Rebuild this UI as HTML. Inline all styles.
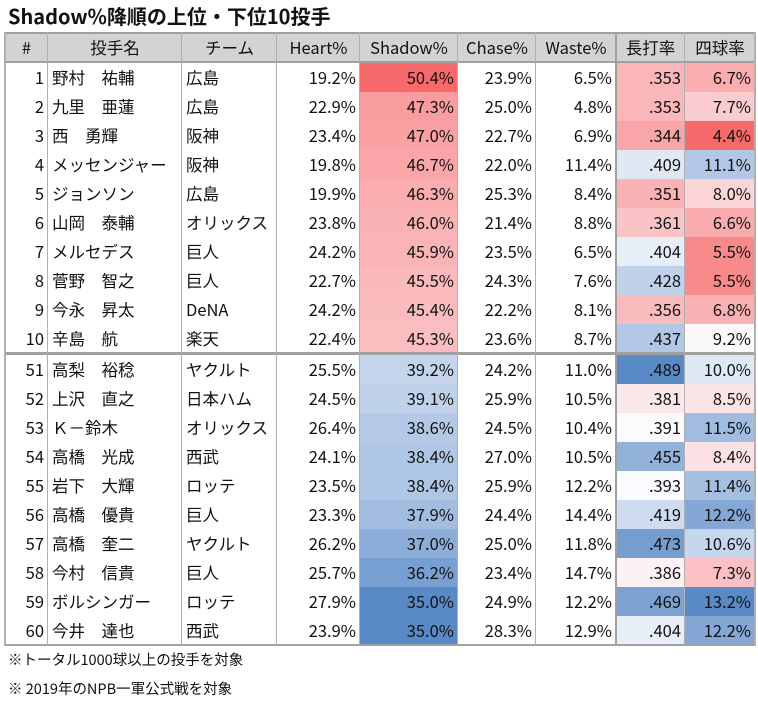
<!DOCTYPE html>
<html><head><meta charset="utf-8">
<style>
body{margin:0;width:758px;height:701px;background:#fff;font-family:"Liberation Sans","Noto Sans CJK JP",sans-serif;position:relative;overflow:hidden;color:#111}
.t{position:absolute;left:8px;top:1px;font-size:20px;font-weight:bold;font-family:"Noto Sans CJK JP",sans-serif}
.c{position:absolute;box-sizing:border-box;font-size:16.5px;line-height:29px;white-space:nowrap;font-family:"Noto Sans CJK JP",sans-serif}
.n{text-align:right;padding-right:4px}
.l{padding-left:4px}
.h{background:#d3d3d3;text-align:center}
.f{position:absolute;left:8px;font-size:14.5px;font-family:"Noto Sans CJK JP",sans-serif}
</style></head><body>
<div class="t">Shadow%降順の上位・下位10投手</div>
<div id="tbl"></div>
<div class="f" style="top:649px">※トータル1000球以上の投手を対象</div>
<div class="f" style="top:678px">※ 2019年のNPB一軍公式戦を対象</div>
<script>
const ranks=[1,2,3,4,5,6,7,8,9,10,51,52,53,54,55,56,57,58,59,60];
const names=["野村　祐輔","九里　亜蓮","西　勇輝","メッセンジャー","ジョンソン","山岡　泰輔","メルセデス","菅野　智之","今永　昇太","辛島　航","高梨　裕稔","上沢　直之","Ｋ－鈴木","高橋　光成","岩下　大輝","高橋　優貴","高橋　奎二","今村　信貴","ボルシンガー","今井　達也"];
const teams=["広島","広島","阪神","阪神","広島","オリックス","巨人","巨人","DeNA","楽天","ヤクルト","日本ハム","オリックス","西武","ロッテ","巨人","ヤクルト","巨人","ロッテ","西武"];
const heart=[19.2,22.9,23.4,19.8,19.9,23.8,24.2,22.7,24.2,22.4,25.5,24.5,26.4,24.1,23.5,23.3,26.2,25.7,27.9,23.9];
const shadow=[50.4,47.3,47.0,46.7,46.3,46.0,45.9,45.5,45.4,45.3,39.2,39.1,38.6,38.4,38.4,37.9,37.0,36.2,35.0,35.0];
const chase=[23.9,25.0,22.7,22.0,25.3,21.4,23.5,24.3,22.2,23.6,24.2,25.9,24.5,27.0,25.9,24.4,25.0,23.4,24.9,28.3];
const waste=[6.5,4.8,6.9,11.4,8.4,8.8,6.5,7.6,8.1,8.7,11.0,10.5,10.4,10.5,12.2,14.4,11.8,14.7,12.2,12.9];
const slg=[.353,.353,.344,.409,.351,.361,.404,.428,.356,.437,.489,.381,.391,.455,.393,.419,.473,.386,.469,.404];
const bb=[6.7,7.7,4.4,11.1,8.0,6.6,5.5,5.5,6.8,9.2,10.0,8.5,11.5,8.4,11.4,12.2,10.6,7.3,13.2,12.2];
const headers=["#","投手名","チーム","Heart%","Shadow%","Chase%","Waste%","長打率","四球率"];
const xs=[5,48,182,277,360,458,536,616,685,755];
const R=[248,105,107],W=[252,252,255],B=[90,138,198];
function mix(a,b,t){return `rgb(${a.map((v,i)=>Math.round(v+(b[i]-v)*t)).join(',')})`;}
function scale(v,lo,mid,hi,redHigh){
  let red,t;
  if(v>=mid){t=(v-mid)/(hi-mid);red=redHigh;}else{t=(mid-v)/(mid-lo);red=!redHigh;}
  t=Math.min(1,Math.max(0,t));
  return mix(W,red?R:B,t);
}
const tbl=document.getElementById('tbl');
function cell(x,y,w,h,txt,cls,bg,name,int){
  const d=document.createElement('div');
  d.className='c '+cls;
  d.style.left=x+'px';d.style.top=y+'px';d.style.width=w+'px';d.style.height=h+'px';
  if(bg)d.style.background=bg;
  d.textContent=txt;
  
  
  tbl.appendChild(d);
}
headers.forEach((h,i)=>{cell(xs[i],33,xs[i+1]-xs[i],29,h,'h',null,'column-header',true);});
for(let r=0;r<20;r++){
  const y=r<10?63+r*29:355+(r-10)*29;
  const vals=[ranks[r],names[r],teams[r],heart[r].toFixed(1)+'%',shadow[r].toFixed(1)+'%',chase[r].toFixed(1)+'%',waste[r].toFixed(1)+'%',slg[r].toFixed(3).replace(/^0/,''),bb[r].toFixed(1)+'%'];
  const bgs=[null,null,null,null,scale(shadow[r],35,41.5,50.4,true),null,null,scale(slg[r],.31,.392,.489,false),scale(bb[r],4.4,9.3,13.2,false)];
  vals.forEach((v,i)=>{cell(xs[i],y,xs[i+1]-xs[i],29,v,(i==1||i==2)?'l':'n',bgs[i],'table-cell',false);});
}
function line(x,y,w,h,c,name){const d=document.createElement('div');d.style.cssText=`position:absolute;left:${x}px;top:${y}px;width:${w}px;height:${h}px;background:${c}`;


tbl.appendChild(d);}
const g='#a0a0a0';
line(5,32,750,2,g,'table-border');line(5,61,750,2,g,'header-border');line(5,352,750,3,g,'section-divider');line(5,644,750,2,g,'table-border');
xs.forEach((x,i)=>{line(x-1,32,(i==0||i==9||i==7)?2:1,614,i==7?g:'#b0b0b0','column-line');});
</script>
</body></html>
